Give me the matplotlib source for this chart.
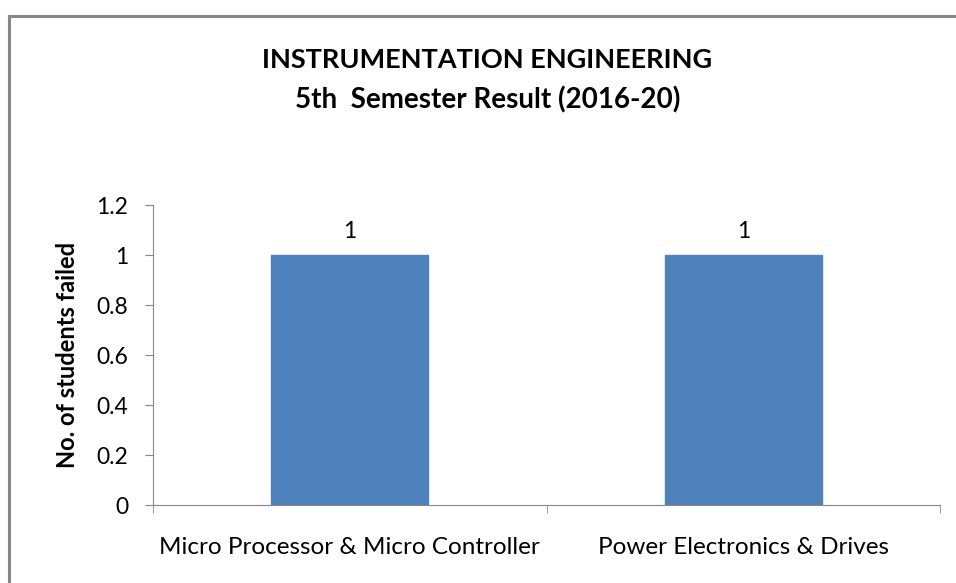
import matplotlib.pyplot as plt
from matplotlib.lines import Line2D

plt.rcParams['font.family'] = ['Lato', 'DejaVu Sans']

subjects = ['Micro Processor & Micro Controller', 'Power Electronics & Drives']
failed = [1, 1]
yticks = [0, 0.2, 0.4, 0.6, 0.8, 1, 1.2]
ytick_labels = ['0', '0.2', '0.4', '0.6', '0.8', '1', '1.2']

W, H = 956, 583
fig = plt.figure(figsize=(W / 100, H / 100), dpi=100)

# outer chart border (cut off at right and bottom)
fig.add_artist(Line2D([9 / W, 1], [1 - 16 / H, 1 - 16 / H], color='#878787', lw=2.2))
fig.add_artist(Line2D([9 / W, 9 / W], [0, 1 - 16 / H], color='#878787', lw=2.2))

ax = fig.add_axes([153 / W, 1 - 505 / H, (940 - 153) / W, (505 - 205) / H])

x = list(range(len(subjects)))
bars = ax.bar(x, failed, width=0.4, color='#4f81bd', edgecolor='#4f81bd', zorder=2)
for b, v in zip(bars, failed):
    ax.text(b.get_x() + b.get_width() / 2, v + 0.05, str(v),
            ha='center', va='bottom', fontsize=16.5)

ax.set_xlim(-0.5, len(subjects) - 0.5)
ax.set_ylim(0, 1.2)
ax.set_yticks(yticks)
ax.set_yticklabels(ytick_labels, fontsize=16.5)
ax.set_xticks(x)
ax.set_xticklabels(subjects, fontsize=17.5)
ax.tick_params(axis='x', length=0, pad=23)
ax.set_xticks([i - 0.5 for i in range(len(subjects) + 1)], minor=True)
ax.tick_params(axis='x', which='minor', length=6, color='#878787', direction='out')
ax.tick_params(axis='y', length=6, color='#878787', direction='out', pad=12)

for s in ['top', 'right']:
    ax.spines[s].set_visible(False)
ax.spines['left'].set_color('#878787')
ax.spines['bottom'].set_color('#878787')

ax.set_ylabel('No. of students failed', fontsize=17, fontweight='bold', labelpad=12)

fig.text(0.51, 1 - 60 / H, 'INSTRUMENTATION ENGINEERING', ha='center', va='center',
         fontsize=19.5, fontweight='bold')
fig.text(0.51, 1 - 100 / H, '5th  Semester Result (2016-20)', ha='center', va='center',
         fontsize=20, fontweight='bold')

fig.savefig('out.png', dpi=100)
